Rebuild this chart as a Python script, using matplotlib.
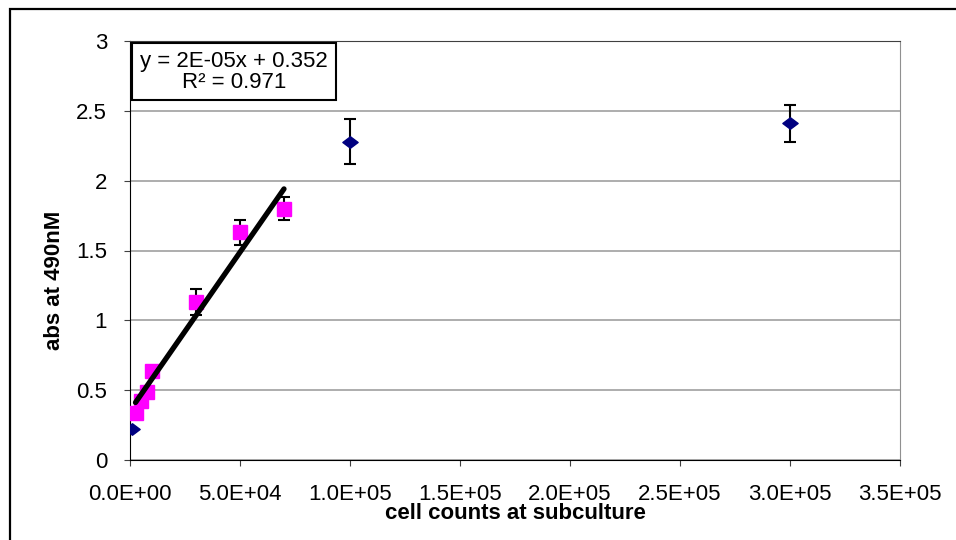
import numpy as np
import matplotlib.pyplot as plt
from matplotlib.patches import Rectangle
from matplotlib.path import Path

plt.rcParams['font.family'] = ['Liberation Sans', 'DejaVu Sans']

# Cell counts at subculture vs absorbance at 490 nM
blue_x = [1000, 100000, 300000]
blue_y = [0.22, 2.28, 2.41]
blue_err = [0.0, 0.16, 0.13]

pink_x = [2500, 5000, 7500, 10000, 30000, 50000, 70000]
pink_y = [0.34, 0.42, 0.49, 0.64, 1.13, 1.63, 1.80]
pink_err = [0.02, 0.02, 0.02, 0.02, 0.095, 0.09, 0.08]

x_ticks = [0, 50000, 100000, 150000, 200000, 250000, 300000, 350000]
x_tick_labels = ['0.0E+00', '5.0E+04', '1.0E+05', '1.5E+05', '2.0E+05',
                 '2.5E+05', '3.0E+05', '3.5E+05']
y_ticks = [0, 0.5, 1, 1.5, 2, 2.5, 3]
y_tick_labels = ['0', '0.5', '1', '1.5', '2', '2.5', '3']

equation_text = 'y = 2E-05x + 0.352\nR² = 0.971'

W, H = 956, 540
fig = plt.figure(figsize=(W / 100, H / 100), dpi=100)
ax = fig.add_axes([130 / W, 1 - 460 / H, 770 / W, 419 / H])

# outer chart frame
fig.patches.append(Rectangle((10 / W, -0.05), 1.2, 1 - 9 / H + 0.05,
                             transform=fig.transFigure, fill=False,
                             edgecolor='black', linewidth=1.6, zorder=0))

ax.set_xlim(0, 350000)
ax.set_ylim(0, 3)
ax.set_xticks(x_ticks)
ax.set_xticklabels(x_tick_labels)
ax.set_yticks(y_ticks)
ax.set_yticklabels(y_tick_labels)
ax.tick_params(axis='both', labelsize=16, direction='out', length=4.5,
               width=0.8, color='#404040')
ax.tick_params(axis='x', pad=13)
ax.tick_params(axis='y', pad=12)

ax.grid(axis='y', color='#a0a0a0', linewidth=1.2)
ax.set_axisbelow(True)
ax.spines['left'].set_color('black')
ax.spines['bottom'].set_color('black')
ax.spines['top'].set_color('#404040')
ax.spines['right'].set_color('#909090')

# wide diamond marker
diamond = Path([(-1, 0), (0, 0.75), (1, 0), (0, -0.75), (-1, 0)],
               [Path.MOVETO, Path.LINETO, Path.LINETO, Path.LINETO,
                Path.CLOSEPOLY])

# pink series with error bars
ax.errorbar(pink_x, pink_y, yerr=pink_err, fmt='none', ecolor='black',
            elinewidth=1.5, capsize=4.3, capthick=1.5, zorder=3)
ax.plot(pink_x, pink_y, linestyle='none', marker='s', markersize=10.5,
        color='#ff00ff', zorder=4)

# navy series with error bars
ax.errorbar(blue_x, blue_y, yerr=blue_err, fmt='none', ecolor='black',
            elinewidth=1.5, capsize=4.3, capthick=1.5, zorder=3)
ax.plot(blue_x, blue_y, linestyle='none', marker=diamond, markersize=11,
        color='#000080', zorder=4)

# linear trendline through the pink series
slope, intercept = np.polyfit(pink_x, pink_y, 1)
tx = np.array([min(pink_x), max(pink_x)])
ax.plot(tx, slope * tx + intercept, color='black', linewidth=3.8,
        solid_capstyle='round', zorder=5)

ax.text((234 - 130) / 770, (460 - 71.5) / 419, equation_text,
        transform=ax.transAxes, fontsize=16, ha='center', va='center',
        linespacing=1.0,
        bbox=dict(boxstyle='square,pad=0.35', facecolor='white',
                  edgecolor='black', linewidth=1.5), zorder=6)

fig.text(55 / W, 1 - 280 / H, 'abs at 490nM', fontsize=16,
         fontweight='bold', rotation=90, ha='center', va='center')
fig.text(515 / W, 1 - 519 / H, 'cell counts at subculture', fontsize=16,
         fontweight='bold', ha='center', va='baseline')

fig.savefig('out.png', dpi=100)
